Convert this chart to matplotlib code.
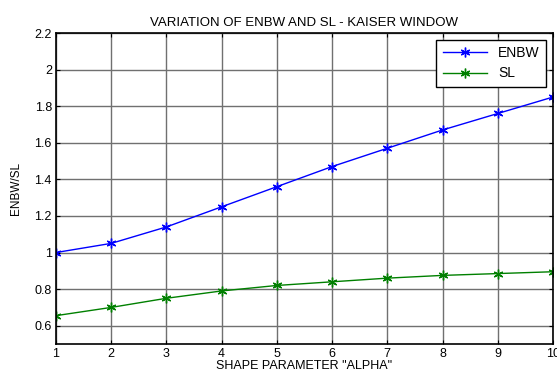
import matplotlib
matplotlib.use("Agg")
import matplotlib.pyplot as plt

plt.rcParams['font.family'] = ['Liberation Sans', 'DejaVu Sans']

alpha = [1, 2, 3, 4, 5, 6, 7, 8, 9, 10]
enbw = [1.0, 1.05, 1.14, 1.25, 1.36, 1.47, 1.57, 1.67, 1.76, 1.85]
sl = [0.655, 0.70, 0.75, 0.79, 0.82, 0.84, 0.86, 0.875, 0.885, 0.895]
yticks = [0.6, 0.8, 1, 1.2, 1.4, 1.6, 1.8, 2, 2.2]
ytick_labels = ["0.6", "0.8", "1", "1.2", "1.4", "1.6", "1.8", "2", "2.2"]

fig = plt.figure(figsize=(5.57, 3.74), dpi=100)
ax = fig.add_axes([56 / 557, 30 / 374, (553 - 56) / 557, (344 - 33) / 374])

star = (6, 2, 0)  # matlab style asterisk
ax.plot(alpha, enbw, color="#0000ff", marker=star, markersize=7, markeredgewidth=1,
        linewidth=1, label="ENBW")
ax.plot(alpha, sl, color="#008000", marker=star, markersize=7, markeredgewidth=1,
        linewidth=1, label="SL")

ax.set_xlim(1, 10)
ax.set_ylim(0.5, 2.2)
ax.set_xticks(alpha)
ax.set_yticks(yticks)
ax.set_yticklabels(ytick_labels)
ax.grid(True, color="#707070", linewidth=1)
ax.tick_params(direction="in", top=True, right=True, labelsize=9, length=3, pad=3)
for s in ax.spines.values():
    s.set_linewidth(1.2)

ax.set_title("VARIATION OF ENBW AND SL - KAISER WINDOW", fontsize=9.5, pad=5)
ax.set_xlabel('SHAPE PARAMETER "ALPHA"', fontsize=9, labelpad=0)
ax.set_ylabel("ENBW/SL", fontsize=8.5, labelpad=9)

leg = ax.legend(loc="upper right", fontsize=10, fancybox=False, framealpha=1,
                edgecolor="black", borderaxespad=0.5, handlelength=3.2,
                labelspacing=0.45, borderpad=0.45)
leg.get_frame().set_linewidth(1)

fig.savefig("out.png", dpi=100)
